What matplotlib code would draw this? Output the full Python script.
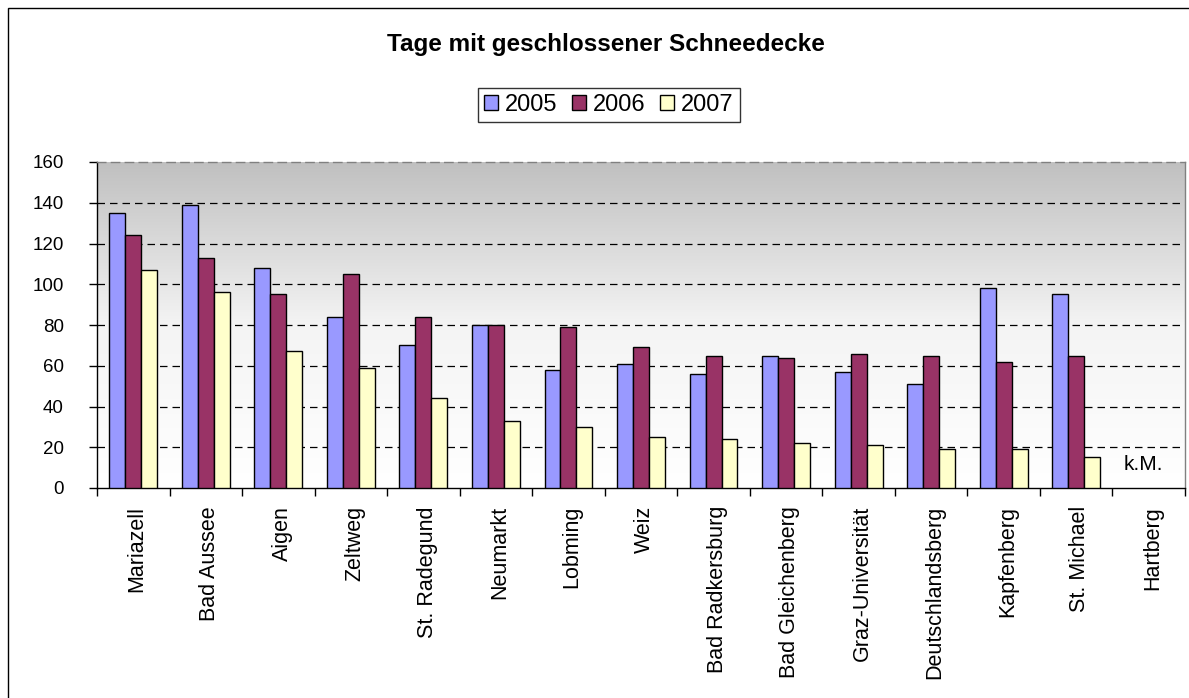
import matplotlib
matplotlib.use("Agg")
import matplotlib.pyplot as plt
import numpy as np
from matplotlib.patches import Rectangle, Patch
from matplotlib.colors import LinearSegmentedColormap

plt.rcParams['font.family'] = ['Liberation Sans', 'DejaVu Sans']

stations = ["Mariazell", "Bad Aussee", "Aigen", "Zeltweg", "St. Radegund", "Neumarkt",
            "Lobming", "Weiz", "Bad Radkersburg", "Bad Gleichenberg", "Graz-Universität",
            "Deutschlandsberg", "Kapfenberg", "St. Michael", "Hartberg"]
years = ["2005", "2006", "2007"]
v2005 = [135, 139, 108, 84, 70, 80, 58, 61, 56, 65, 57, 51, 98, 95, np.nan]
v2006 = [124, 113, 95, 105, 84, 80, 79, 69, 65, 64, 66, 65, 62, 65, np.nan]
v2007 = [107, 96, 67, 59, 44, 33, 30, 25, 24, 22, 21, 19, 19, 15, np.nan]
colors = ["#9999FF", "#993366", "#FFFFCC"]
yticks = [0, 20, 40, 60, 80, 100, 120, 140, 160]

W, H = 1189, 698
fig = plt.figure(figsize=(W / 100, H / 100), dpi=100)
fig.patch.set_facecolor("white")

# outer frame
fig.add_artist(Rectangle((8 / W, -0.05), 1.2, 1 - 8 / H + 0.05, transform=fig.transFigure,
                         fill=False, edgecolor="black", linewidth=1.0))

ax = fig.add_axes([97 / W, 1 - 488 / H, (1185 - 97) / W, (488 - 162) / H])
x = np.arange(len(stations))
ax.set_xlim(-0.5, len(stations) - 0.5)
ax.set_ylim(0, 160)

# gradient background
cmap = LinearSegmentedColormap.from_list("g", ["#ffffff", "#f4f4f4", "#c0c0c0"])
grad = np.linspace(0, 1, 256).reshape(-1, 1)
ax.imshow(grad, extent=(-0.5, len(stations) - 0.5, 0, 160), origin="lower",
          aspect="auto", cmap=cmap, zorder=0)

for yv in yticks[1:-1]:
    ax.axhline(yv, color="black", linestyle=(0, (6, 4)), linewidth=0.9, zorder=1)

bw = 0.22
for i, (vals, c) in enumerate(zip([v2005, v2006, v2007], colors)):
    ax.bar(x + (i - 1) * bw, vals, width=bw, color=c, edgecolor="black",
           linewidth=1.0, zorder=3)

ax.text(13.92, 11.3, "k.M.", ha="center", va="center", fontsize=15, zorder=4)

ax.set_yticks(yticks)
ax.set_yticklabels([str(v) for v in yticks], fontsize=13.5)
ax.tick_params(axis="y", length=6, width=1, pad=18, direction="out", color="black")
ax.set_xticks(x + 0.05)
ax.set_xticklabels(stations, rotation=90, fontsize=15.5, va="top", ha="center")
ax.tick_params(axis="x", which="major", length=0, pad=13)
ax.set_xticks(np.arange(-0.5, len(stations) + 0.5, 1), minor=True)
ax.tick_params(axis="x", which="minor", length=6, width=1, direction="out", color="black")

ax.spines["left"].set_color("black")
ax.spines["bottom"].set_color("black")
ax.spines["right"].set_color("#808080")
ax.spines["top"].set_color("#808080")
ax.spines["top"].set_linestyle((0, (6, 4)))
for s in ax.spines.values():
    s.set_linewidth(1.0)

fig.text(606 / W, 1 - 45 / H, "Tage mit geschlossener Schneedecke", ha="center",
         va="center", fontsize=17.5, fontweight="bold")

handles = [Patch(facecolor=c, edgecolor="black", linewidth=1.0) for c in colors]
leg = fig.legend(handles, years, loc="center", bbox_to_anchor=(609 / W, 1 - 105 / H),
                 ncol=3, fontsize=17, frameon=True, fancybox=False,
                 handlelength=0.6, handleheight=0.6, handletextpad=0.3,
                 columnspacing=0.6, borderpad=0.25, borderaxespad=0)
leg.get_frame().set_edgecolor("black")
leg.get_frame().set_linewidth(1.0)

fig.savefig("out.png", dpi=100, facecolor="white")
